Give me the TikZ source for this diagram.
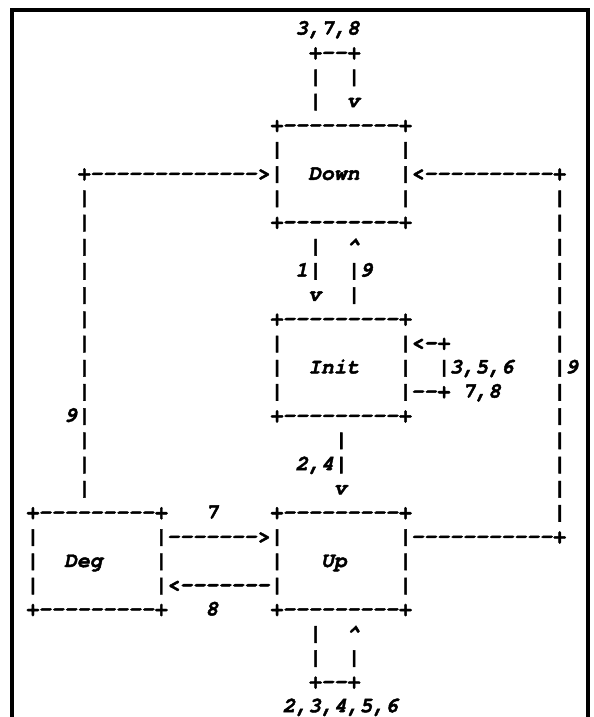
\documentclass[tikz,border=0pt]{standalone}
\usepackage{fontspec}
\setmonofont{TeX Gyre Cursor}[BoldItalicFeatures={FakeBold=2}]
\usetikzlibrary{positioning}
% n blank character cells
\newcommand\gap[1]{\hspace*{\dimexpr #1em*6/10\relax}}
\tikzset{
  asciirow/.style={
    anchor=base west, inner sep=0pt, outer sep=0pt,
    font=\fontsize{16.06pt}{18.2pt}\selectfont\ttfamily\bfseries\itshape
  },
  frameline/.style={line width=3pt, black}
}

\begin{document}
\begin{tikzpicture}[x=9.6375pt, y=-18.15pt]
    \useasboundingbox (-1.984,0) rectangle (44.164,29.628);
    \draw[frameline] (-1.05,30.5) -- (-1.05,0.413) -- (43.77,0.413) -- (43.77,30.5);
    \node[asciirow] (row1)  at (0,1.43)  {\gap{21}3,7,8};
    \node[asciirow] (row2)  at (0,2.43)  {\gap{22}+--+};
    \node[asciirow] (row3)  at (0,3.43)  {\gap{22}|\gap{2}|};
    \node[asciirow] (row4)  at (0,4.43)  {\gap{22}|\gap{2}v};
    \node[asciirow] (row5)  at (0,5.43)  {\gap{19}+---------+};
    \node[asciirow] (row6)  at (0,6.43)  {\gap{19}|\gap{9}|};
    \node[asciirow] (row7)  at (0,7.43)  {\gap{4}+------------->|\gap{2}Down\gap{3}|<----------+};
    \node[asciirow] (row8)  at (0,8.43)  {\gap{4}|\gap{14}|\gap{9}|\gap{11}|};
    \node[asciirow] (row9)  at (0,9.43)  {\gap{4}|\gap{14}+---------+\gap{11}|};
    \node[asciirow] (row10) at (0,10.43) {\gap{4}|\gap{17}|\gap{2}\textasciicircum\gap{15}|};
    \node[asciirow] (row11) at (0,11.43) {\gap{4}|\gap{16}1|\gap{2}|9\gap{14}|};
    \node[asciirow] (row12) at (0,12.43) {\gap{4}|\gap{17}v\gap{2}|\gap{15}|};
    \node[asciirow] (row13) at (0,13.43) {\gap{4}|\gap{14}+---------+\gap{11}|};
    \node[asciirow] (row14) at (0,14.43) {\gap{4}|\gap{14}|\gap{9}|<-+\gap{8}|};
    \node[asciirow] (row15) at (0,15.43) {\gap{4}|\gap{14}|\gap{2}Init\gap{3}|\gap{2}|3,5,6\gap{3}|9};
    \node[asciirow] (row16) at (0,16.43) {\gap{4}|\gap{14}|\gap{9}|--+\gap{1}7,8\gap{4}|};
    \node[asciirow] (row17) at (0,17.43) {\gap{3}9|\gap{14}+---------+\gap{11}|};
    \node[asciirow] (row18) at (0,18.43) {\gap{4}|\gap{19}|\gap{16}|};
    \node[asciirow] (row19) at (0,19.43) {\gap{4}|\gap{16}2,4|\gap{16}|};
    \node[asciirow] (row20) at (0,20.43) {\gap{4}|\gap{19}v\gap{16}|};
    \node[asciirow] (row21) at (0,21.43) {+---------+\gap{3}7\gap{4}+---------+\gap{11}|};
    \node[asciirow] (row22) at (0,22.43) {|\gap{9}|------->|\gap{9}|-----------+};
    \node[asciirow] (row23) at (0,23.43) {|\gap{2}Deg\gap{4}|\gap{8}|\gap{3}Up\gap{4}|};
    \node[asciirow] (row24) at (0,24.43) {|\gap{9}|<-------|\gap{9}|};
    \node[asciirow] (row25) at (0,25.43) {+---------+\gap{3}8\gap{4}+---------+};
    \node[asciirow] (row26) at (0,26.43) {\gap{22}|\gap{2}\textasciicircum};
    \node[asciirow] (row27) at (0,27.43) {\gap{22}|\gap{2}|};
    \node[asciirow] (row28) at (0,28.43) {\gap{22}+--+};
    \node[asciirow] (row29) at (0,29.43) {\gap{20}2,3,4,5,6};
\end{tikzpicture}
\end{document}
